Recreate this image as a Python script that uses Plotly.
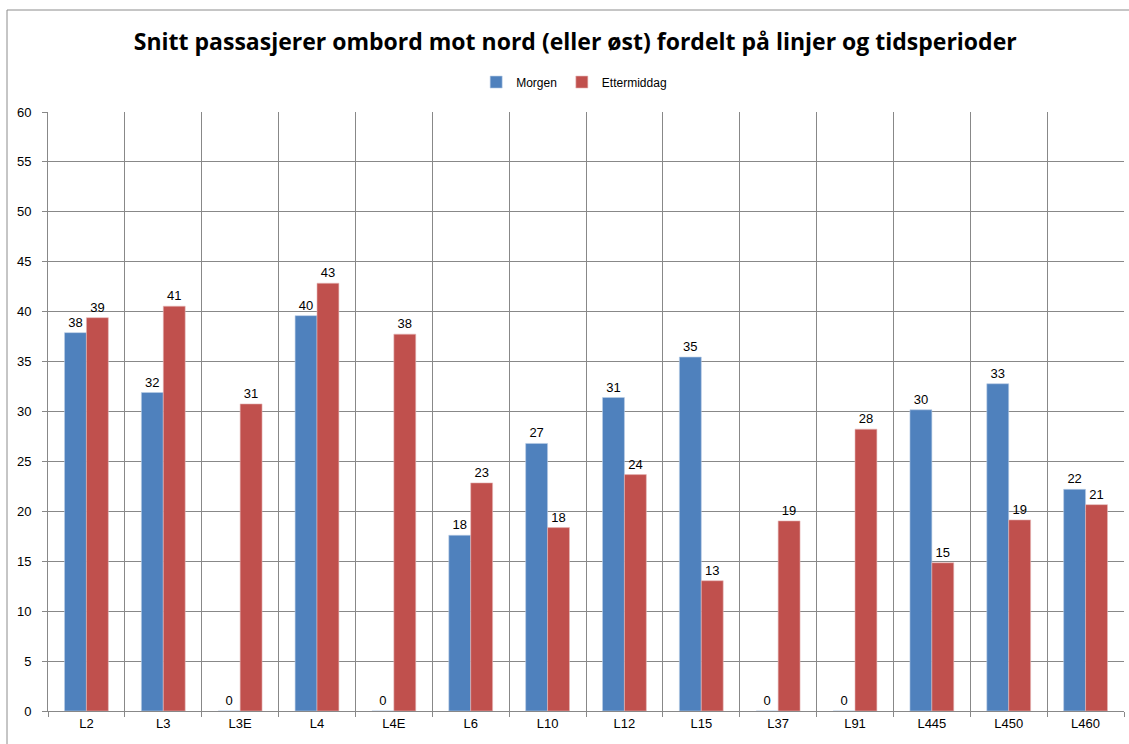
import plotly.graph_objects as go

categories = ["L2", "L3", "L3E", "L4", "L4E", "L6", "L10", "L12", "L15", "L37", "L91", "L445", "L450", "L460"]
morgen = [37.9, 31.9, 0, 39.6, 0, 17.6, 26.8, 31.4, 35.45, 0, 0, 30.17, 32.78, 22.2]
ettermiddag = [39.4, 40.55, 30.76, 42.85, 37.75, 22.85, 18.37, 23.68, 13.05, 19.04, 28.23, 14.85, 19.14, 20.67]
title_text = "Snitt passasjerer ombord mot nord (eller øst) fordelt på linjer og tidsperioder"

font_family = "Liberation Sans, Arial, sans-serif"
label_tmpl = "%{y:.0f}"

fig = go.Figure()
fig.add_trace(go.Bar(
    x=categories, y=morgen, name="Morgen",
    marker=dict(color="#4F81BD", line=dict(color="#B9CDE5", width=0.6)),
    texttemplate=label_tmpl, textposition="outside",
    textfont=dict(size=13, color="#000000", family=font_family),
    cliponaxis=False,
))
fig.add_trace(go.Bar(
    x=categories, y=ettermiddag, name="Ettermiddag",
    marker=dict(color="#C0504D", line=dict(color="#E6B9B8", width=0.6)),
    texttemplate=label_tmpl, textposition="outside",
    textfont=dict(size=13, color="#000000", family=font_family),
    cliponaxis=False,
))

fig.update_layout(
    width=1129, height=744,
    margin=dict(l=48, r=5, t=112, b=33),
    paper_bgcolor="white", plot_bgcolor="white",
    barmode="group", bargap=0.43, bargroupgap=0,
    font=dict(family=font_family, size=13, color="#000000"),
    title=dict(text="<b>" + title_text + "</b>", xref="paper", x=0.49, xanchor="center",
               yref="container", y=0.9435, yanchor="middle",
               font=dict(family="Open Sans, Liberation Sans, sans-serif", size=23, color="#000000")),
    legend=dict(orientation="h", x=0.489, xanchor="center", y=1.05, yanchor="middle",
                font=dict(size=12), itemwidth=30, traceorder="normal",
                bgcolor="rgba(0,0,0,0)"),
    showlegend=True,
)

fig.update_yaxes(
    range=[0, 60], dtick=5, tick0=0,
    showgrid=True, gridcolor="#888888", gridwidth=1,
    showline=True, linecolor="#888888", linewidth=1,
    ticks="outside", ticklen=5, tickcolor="#888888",
    tickfont=dict(size=13), zeroline=False, ticklabelstandoff=8,
)
fig.update_xaxes(
    type="category", tickson="boundaries",
    showgrid=True, gridcolor="#888888", gridwidth=1,
    showline=True, linecolor="#888888", linewidth=1,
    ticks="outside", ticklen=5, tickcolor="#888888",
    tickfont=dict(size=13),
)

# outer chart border
fig.add_shape(type="rect", xref="paper", yref="paper",
              x0=(7 - 48) / 1076, x1=1.2, y0=-0.3, y1=(711 - 10) / 599,
              line=dict(color="#8C8C8C", width=1), fillcolor="rgba(0,0,0,0)",
              layer="below")

fig.write_html("out.html", config={"displayModeBar": False},
               post_script="document.body.style.margin='0';")
